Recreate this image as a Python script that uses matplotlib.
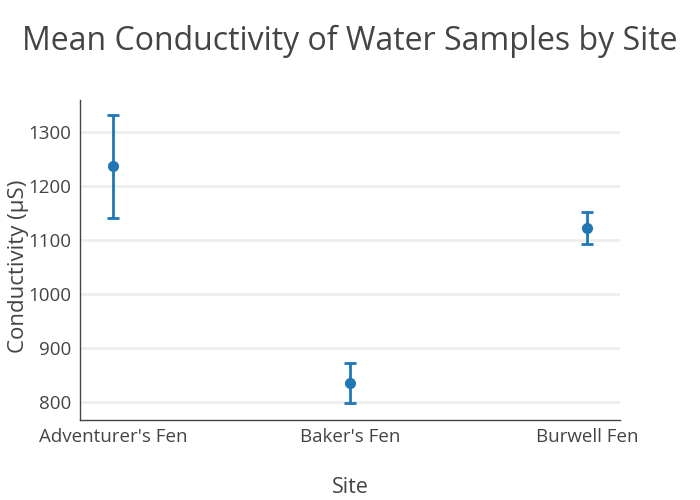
import matplotlib.pyplot as plt
import numpy as np

# Data
sites = ["Adventurer's Fen", "Baker's Fen", "Burwell Fen"]
mean_conductivity = [1236, 835, 1122]
error = [95, 37, 30]

plt.rcParams['font.family'] = ['Open Sans', 'DejaVu Sans']

fig = plt.figure(figsize=(7, 5), dpi=100)
ax = fig.add_axes([80 / 700, 80 / 500, 540 / 700, 320 / 500])

x = np.arange(len(sites))
ax.errorbar(x, mean_conductivity, yerr=error, fmt='o', color='#1f77b4',
            markersize=7, elinewidth=2, capsize=4, capthick=2, zorder=3)

ax.set_xlim(-0.139, 2.139)
ax.set_ylim(767, 1359)
ax.set_xticks(x)
ax.set_xticklabels(sites)
ax.set_yticks([800, 900, 1000, 1100, 1200, 1300])

ax.grid(axis='y', color='#eeeeee', linewidth=2, zorder=0)
ax.set_axisbelow(True)
for side in ['top', 'right']:
    ax.spines[side].set_visible(False)
for side in ['left', 'bottom']:
    ax.spines[side].set_color('#444444')
    ax.spines[side].set_linewidth(1)

ax.tick_params(axis='both', length=0, labelsize=13.5, colors='#444444', pad=6)
ax.set_xlabel("Site", fontsize=15.5, color='#444444', labelpad=22)
ax.set_ylabel("Conductivity (µS)", fontsize=16, color='#444444')
ax.yaxis.set_label_coords(-0.094, 0.48)

fig.suptitle("Mean Conductivity of Water Samples by Site", fontsize=23,
             color='#444444', x=0.5, y=0.95)

fig.savefig("out.png", dpi=100)
